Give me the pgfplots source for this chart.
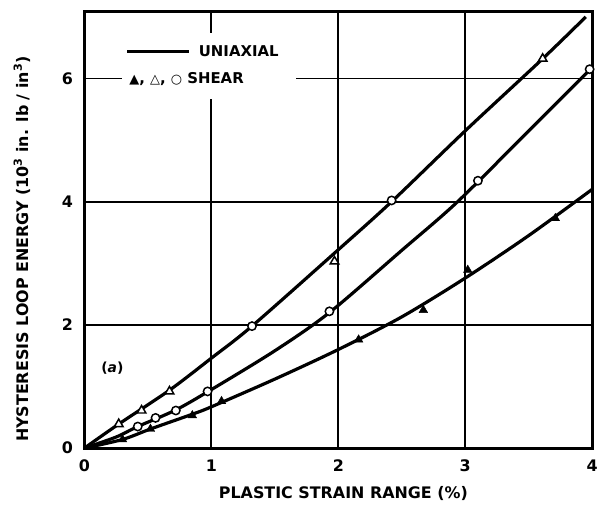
\documentclass[border=0pt]{standalone}
\usepackage{fontspec}
\setmainfont{DejaVu Sans}
\usepackage{pgfplots}
\pgfplotsset{compat=1.18}
\newcommand{\lblfont}{\bfseries\fontsize{15}{15}\selectfont}
\begin{document}
\begin{tikzpicture}
\begin{axis}[
  width=511pt, height=439pt, scale only axis,
  xmin=0, xmax=4, ymin=0, ymax=7.08,
  xtick={0,1,2,3,4}, ytick={0,2,4,6},
  major tick length=0pt,
  grid=major,
  major grid style={black, line width=1.8pt},
  axis line style={black, line width=3pt},
  /pgf/number format/assume math mode=true,
  ticklabel style={font=\bfseries\fontsize{16}{16}\selectfont},
  xticklabel style={yshift=-8pt},
  yticklabel style={xshift=-8pt},
  xlabel={PLASTIC STRAIN RANGE (\%)},
  ylabel={HYSTERESIS LOOP ENERGY (10\textsuperscript{3} in. lb / in\textsuperscript{3})},
  label style={font=\bfseries\fontsize{16}{16}\selectfont},
  xlabel style={at={(axis description cs:0.51,-0.105)}, anchor=center},
  ylabel style={at={(axis description cs:-0.123,0.456)}, anchor=center},
]

% legend box
\fill[white] (rel axis cs:0.074,0.80) rectangle (rel axis cs:0.417,0.952);
\draw[line width=3.2pt] (rel axis cs:0.084,0.909) -- (rel axis cs:0.205,0.909);
\node[anchor=west, inner sep=0pt, font=\lblfont] at (rel axis cs:0.225,0.909) {UNIAXIAL};
\node[anchor=west, inner sep=0pt, font=\lblfont] at (rel axis cs:0.088,0.845)
  {{\fontsize{13}{13}\selectfont▲}, {\fontsize{13}{13}\selectfont△}, {\fontsize{13}{13}\selectfont○} SHEAR};
\node[font=\bfseries\fontsize{14}{14}\selectfont] at (axis cs:0.22,1.3) {(\textit{a})};

% uniaxial curves
\addplot[black, line width=3.2pt, smooth, tension=0.5] coordinates {
  (0,0) (0.27,0.39) (0.67,0.94) (1,1.46) (1.32,1.98) (2,3.22) (2.42,4.0)
  (3,5.15) (3.61,6.32) (3.95,7.0)};
\addplot[black, line width=3.2pt, smooth, tension=0.5] coordinates {
  (0,0) (0.25,0.18) (0.42,0.35) (0.72,0.62) (1,0.95) (1.5,1.58) (1.93,2.2)
  (2.5,3.21) (2.94,4.0) (3.5,5.15) (4,6.18)};
\addplot[black, line width=3.2pt, smooth, tension=0.5] coordinates {
  (0,0) (0.3,0.14) (0.52,0.31) (0.85,0.55) (1,0.67) (1.5,1.12) (2,1.6)
  (2.5,2.13) (3,2.76) (3.5,3.45) (4,4.2)};

% shear data
\addplot[only marks, mark=triangle*, mark size=5pt, mark options={fill=white, line width=1.5pt}] coordinates {
  (0.27,0.39) (0.45,0.61) (0.67,0.92) (1.97,3.03) (3.61,6.32)};
\addplot[only marks, mark=*, mark size=4.2pt, mark options={fill=white, line width=1.5pt}] coordinates {
  (1.32,1.98) (2.42,4.02)
  (0.42,0.35) (0.56,0.49) (0.72,0.61) (0.97,0.92) (1.93,2.22) (3.10,4.34) (3.98,6.15)};
\addplot[only marks, mark=triangle*, mark size=5pt, mark options={fill=black}] coordinates {
  (0.3,0.14) (0.52,0.31) (0.85,0.53) (1.08,0.76) (2.16,1.76) (2.67,2.24) (3.02,2.89) (3.71,3.73)};
\end{axis}
\path (current axis.south west) ++(-85pt,-58pt) rectangle ([xshift=5pt,yshift=12pt]current axis.north east);
\end{tikzpicture}
\end{document}
